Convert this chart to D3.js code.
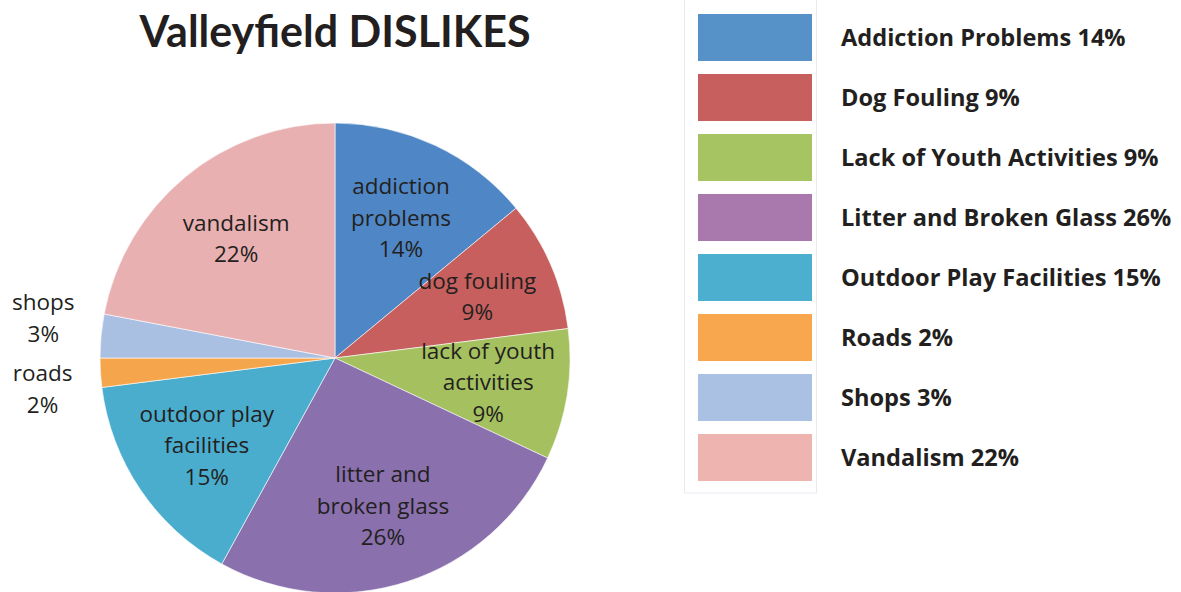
<!DOCTYPE html>
<html>
<head>
<meta charset="utf-8">
<script src="https://cdn.jsdelivr.net/npm/d3@7"></script>
<style>
  html, body { margin: 0; padding: 0; background: #fff; }
  svg { display: block; font-family: "Open Sans", Lato, sans-serif; }
</style>
</head>
<body>
<div id="chart"></div>
<script>
const title = 'Valleyfield DISLIKES';
const sliceLabels = ['addiction problems', 'dog fouling', 'lack of youth activities', 'litter and broken glass',
  'outdoor play facilities', 'roads', 'shops', 'vandalism'];
const legendLabels = ['Addiction Problems', 'Dog Fouling', 'Lack of Youth Activities', 'Litter and Broken Glass',
  'Outdoor Play Facilities', 'Roads', 'Shops', 'Vandalism'];
const values = [14, 9, 9, 26, 15, 2, 3, 22];
const sliceColors = ['#4f87c6', '#c75f5f', '#a5c15f', '#8a70ad', '#4aadce', '#f5a64d', '#a9c0e3', '#e9b0b1'];
const legendColors = ['#5691c8', '#c75f5f', '#a7c462', '#a979ae', '#4cafcf', '#f8a74f', '#abc1e4', '#edb4b0'];
// slices too thin to hold their label get it outside
const outsideLabel = ['roads', 'shops'];
const labelLines = {
  'addiction problems': ['addiction', 'problems'],
  'lack of youth activities': ['lack of youth', 'activities'],
  'litter and broken glass': ['litter and', 'broken glass'],
  'outdoor play facilities': ['outdoor play', 'facilities'],
};

const width = 1181, height = 592;
const cx = 335, cy = 358, radius = 235;

const svg = d3.select('#chart').append('svg')
  .attr('width', width)
  .attr('height', height);

svg.append('text')
  .attr('x', cx)
  .attr('y', 47)
  .attr('text-anchor', 'middle')
  .attr('font-family', 'Lato, sans-serif')
  .attr('font-size', 43)
  .attr('font-weight', 'bold')
  .attr('fill', '#231f20')
  .text(title);

const data = values.map((v, i) => ({label: sliceLabels[i], value: v, i}));
const pie = d3.pie().sort(null).value(d => d.value);
const arcs = pie(data);

const arc = d3.arc().innerRadius(0).outerRadius(radius);
const labelArc = d3.arc().innerRadius(radius * 0.66).outerRadius(radius * 0.66);
const outerArc = d3.arc().innerRadius(radius + 58).outerRadius(radius + 58);

const g = svg.append('g').attr('transform', `translate(${cx},${cy})`);

g.selectAll('path')
  .data(arcs)
  .join('path')
  .attr('d', arc)
  .attr('fill', d => sliceColors[d.data.i])
  .attr('stroke', '#fff')
  .attr('stroke-width', 0.6);

// label anchor points; outside ones get pushed apart so they don't collide
const lineH = 31.5;
const minGap = 71;
const pos = arcs.map(d => {
  const outside = outsideLabel.includes(d.data.label);
  const [x, y] = outside ? outerArc.centroid(d) : labelArc.centroid(d);
  return {d, outside, x, y};
});
const outs = pos.filter(p => p.outside).sort((a, b) => a.y - b.y);
for (let k = 1; k < outs.length; k++) {
  const gap = outs[k].y - outs[k - 1].y;
  if (gap < minGap) {
    const shift = (minGap - gap) / 2;
    outs[k - 1].y -= shift;
    outs[k].y += shift;
  }
}

g.selectAll('text.slice')
  .data(pos)
  .join('text')
  .attr('class', 'slice')
  .attr('text-anchor', 'middle')
  .attr('font-size', 22.5)
  .attr('fill', '#231f20')
  .each(function(p) {
    const lines = (labelLines[p.d.data.label] || [p.d.data.label]).slice();
    lines.push(p.d.data.value + '%');
    const top = p.y - (lines.length - 1) * lineH / 2 + 8;
    d3.select(this).selectAll('tspan')
      .data(lines)
      .join('tspan')
      .attr('x', p.x)
      .attr('y', (t, k) => top + k * lineH)
      .text(t => t);
  });

// legend
const legend = svg.append('g');
legend.append('rect')
  .attr('x', 684.5)
  .attr('y', -2)
  .attr('width', 132)
  .attr('height', 495)
  .attr('fill', 'none')
  .attr('stroke', '#e6ebf3')
  .attr('stroke-width', 1);

const y = d3.scaleBand().domain(d3.range(values.length)).range([14, 14 + 60 * values.length]);

const items = legend.selectAll('g.item')
  .data(data)
  .join('g')
  .attr('class', 'item')
  .attr('transform', d => `translate(0,${y(d.i)})`);

items.append('rect')
  .attr('x', 698)
  .attr('y', 0)
  .attr('width', 114)
  .attr('height', 47)
  .attr('fill', d => legendColors[d.i]);

items.append('text')
  .attr('x', 841)
  .attr('y', 32)
  .attr('font-size', 23.6)
  .attr('font-weight', 'bold')
  .attr('fill', '#231f20')
  .text(d => `${legendLabels[d.i]} ${d.value}%`);
</script>
</body>
</html>
